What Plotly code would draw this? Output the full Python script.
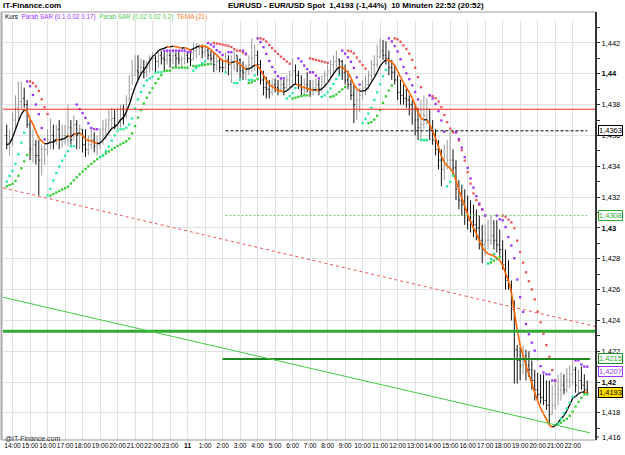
import plotly.graph_objects as go

# ---- data (EURUSD, 10-minute bars, 13:40 day 10 .. 22:50 day 11) ----
closes = [1.4354,1.4357,1.4370,1.4378,1.4382,1.4384,1.4380,1.4367,1.4351,1.4354,
          1.4347,1.4344,1.4351,1.4351,1.4357,1.4360,1.4357,1.4364,1.4357,1.4360,
          1.4360,1.4365,1.4357,1.4367,1.4360,1.4364,1.4354,1.4351,1.4354,1.4357,
          1.4353,1.4354,1.4357,1.4364,1.4367,1.4370,1.4371,1.4367,1.4370,1.4377,
          1.4373,1.4383,1.4390,1.4399,1.4402,1.4401,1.4404,1.4401,1.4404,1.4409,
          1.4410,1.4408,1.4412,1.4410,1.4409,1.4412,1.4409,1.4412,1.4410,1.4409,
          1.4410,1.4412,1.4410,1.4409,1.4415,1.4417,1.4417,1.4414,1.4415,1.4412,
          1.4410,1.4406,1.4408,1.4404,1.4404,1.4409,1.4406,1.4408,1.4412,1.4409,
          1.4402,1.4401,1.4402,1.4406,1.4410,1.4412,1.4406,1.4396,1.4391,1.4390,
          1.4388,1.4393,1.4391,1.4390,1.4393,1.4391,1.4396,1.4399,1.4402,1.4399,
          1.4393,1.4390,1.4393,1.4390,1.4390,1.4391,1.4393,1.4390,1.4395,1.4399,
          1.4402,1.4406,1.4408,1.4409,1.4408,1.4401,1.4396,1.4393,1.4386,1.4380,
          1.4383,1.4386,1.4391,1.4393,1.4399,1.4406,1.4406,1.4411,1.4415,1.4412,
          1.4410,1.4404,1.4401,1.4396,1.4388,1.4386,1.4384,1.4383,1.4380,1.4377,
          1.4370,1.4365,1.4367,1.4373,1.4377,1.4364,1.4357,1.4351,1.4344,1.4338,
          1.4341,1.4344,1.4344,1.4339,1.4325,1.4318,1.4315,1.4312,1.4305,1.4304,
          1.4302,1.4300,1.4292,1.4289,1.4292,1.4292,1.4295,1.4292,1.4289,1.4286,
          1.4276,1.4266,1.4263,1.4247,1.4221,1.4214,1.4211,1.4217,1.4211,1.4208,
          1.4201,1.4195,1.4192,1.4190,1.4188,1.4185,1.4179,1.4185,1.4192,1.4195,
          1.4198,1.4195,1.4201,1.4205,1.4208,1.4198,1.4201,1.4198,1.4195,1.4193]

highs = [1.4367,1.4364,1.4375,1.4386,1.4395,1.4395,1.4391,1.4383,1.4370,1.4364,
         1.4357,1.4357,1.4354,1.4354,1.4364,1.4371,1.4367,1.4367,1.4370,1.4367,
         1.4367,1.4380,1.4370,1.4373,1.4370,1.4367,1.4364,1.4364,1.4360,1.4364,
         1.4362,1.4360,1.4365,1.4370,1.4371,1.4377,1.4378,1.4377,1.4378,1.4380,
         1.4380,1.4386,1.4399,1.4409,1.4412,1.4412,1.4410,1.4409,1.4408,1.4412,
         1.4414,1.4412,1.4414,1.4415,1.4414,1.4415,1.4414,1.4415,1.4414,1.4415,
         1.4412,1.4414,1.4414,1.4414,1.4420,1.4420,1.4419,1.4419,1.4419,1.4417,
         1.4415,1.4414,1.4412,1.4410,1.4409,1.4414,1.4412,1.4412,1.4415,1.4412,
         1.4410,1.4408,1.4406,1.4412,1.4423,1.4419,1.4415,1.4409,1.4402,1.4398,
         1.4396,1.4397,1.4397,1.4396,1.4397,1.4396,1.4399,1.4402,1.4410,1.4406,
         1.4402,1.4399,1.4397,1.4401,1.4396,1.4396,1.4397,1.4396,1.4399,1.4402,
         1.4406,1.4409,1.4412,1.4415,1.4410,1.4409,1.4406,1.4402,1.4396,1.4393,
         1.4390,1.4391,1.4396,1.4399,1.4402,1.4409,1.4412,1.4419,1.4423,1.4422,
         1.4421,1.4415,1.4409,1.4406,1.4399,1.4396,1.4393,1.4391,1.4386,1.4383,
         1.4380,1.4378,1.4383,1.4386,1.4384,1.4377,1.4370,1.4364,1.4357,1.4351,
         1.4354,1.4357,1.4362,1.4351,1.4344,1.4331,1.4328,1.4325,1.4321,1.4318,
         1.4315,1.4312,1.4308,1.4302,1.4302,1.4305,1.4308,1.4305,1.4305,1.4299,
         1.4292,1.4286,1.4279,1.4266,1.4253,1.4224,1.4223,1.4224,1.4221,1.4220,
         1.4214,1.4208,1.4206,1.4205,1.4205,1.4201,1.4201,1.4198,1.4201,1.4205,
         1.4206,1.4205,1.4209,1.4211,1.4214,1.4210,1.4208,1.4210,1.4205,1.4201]

lows = [1.4351,1.4347,1.4353,1.4364,1.4370,1.4377,1.4378,1.4365,1.4344,1.4342,
        1.4341,1.4321,1.4334,1.4341,1.4347,1.4351,1.4351,1.4354,1.4351,1.4352,
        1.4354,1.4353,1.4354,1.4357,1.4351,1.4351,1.4349,1.4346,1.4347,1.4351,
        1.4349,1.4347,1.4351,1.4354,1.4357,1.4360,1.4364,1.4364,1.4364,1.4365,
        1.4367,1.4371,1.4383,1.4393,1.4399,1.4396,1.4399,1.4397,1.4398,1.4401,
        1.4402,1.4401,1.4404,1.4406,1.4402,1.4406,1.4404,1.4406,1.4404,1.4406,
        1.4404,1.4406,1.4407,1.4405,1.4409,1.4410,1.4412,1.4410,1.4411,1.4409,
        1.4408,1.4401,1.4402,1.4401,1.4401,1.4402,1.4399,1.4394,1.4402,1.4401,
        1.4397,1.4396,1.4396,1.4399,1.4401,1.4402,1.4399,1.4393,1.4386,1.4384,
        1.4384,1.4386,1.4388,1.4386,1.4388,1.4386,1.4390,1.4391,1.4391,1.4393,
        1.4390,1.4386,1.4386,1.4388,1.4385,1.4386,1.4388,1.4386,1.4388,1.4391,
        1.4395,1.4397,1.4399,1.4402,1.4399,1.4396,1.4393,1.4390,1.4383,1.4368,
        1.4370,1.4375,1.4383,1.4386,1.4390,1.4396,1.4399,1.4404,1.4410,1.4409,
        1.4406,1.4399,1.4396,1.4393,1.4383,1.4380,1.4380,1.4378,1.4373,1.4367,
        1.4360,1.4357,1.4357,1.4364,1.4367,1.4357,1.4354,1.4347,1.4338,1.4327,
        1.4331,1.4338,1.4338,1.4334,1.4318,1.4312,1.4308,1.4302,1.4299,1.4297,
        1.4294,1.4292,1.4286,1.4277,1.4282,1.4286,1.4289,1.4286,1.4284,1.4282,
        1.4273,1.4260,1.4260,1.4240,1.4199,1.4199,1.4201,1.4205,1.4201,1.4203,
        1.4195,1.4188,1.4188,1.4186,1.4185,1.4182,1.4173,1.4179,1.4182,1.4185,
        1.4188,1.4192,1.4193,1.4196,1.4198,1.4193,1.4192,1.4195,1.4192,1.4192]

first_open = 1.4360
opens = [first_open] + closes[:-1]

hour_ticks = [2, 8, 14, 20, 26, 32, 38, 44, 50, 56, 62, 68, 74, 80, 86, 92, 98, 104, 110, 116,
              122, 128, 134, 140, 146, 152, 158, 164, 170, 176, 182, 188, 194]
hour_labels = ["14:00", "15:00", "16:00", "17:00", "18:00", "19:00", "20:00", "21:00", "22:00", "23:00",
               "<b>11</b>", "1:00", "2:00", "3:00", "4:00", "5:00", "6:00", "7:00", "8:00", "9:00",
               "10:00", "11:00", "12:00", "13:00", "14:00", "15:00", "16:00", "17:00", "18:00",
               "19:00", "20:00", "21:00", "22:00"]

price_ticks = [1.418, 1.42, 1.422, 1.424, 1.426, 1.428, 1.43, 1.432, 1.434, 1.436, 1.438, 1.44, 1.442]
price_labels = ["1,418", "<b>1,42</b>", "1,422", "1,424", "1,426", "1,428", "<b>1,43</b>",
                "1,432", "1,434", "1,436", "1,438", "<b>1,44</b>", "1,442"]
bottom_price_label = "1,416"

# horizontal levels / trend lines (price values)
red_level = 1.4377
black_dash_level = 1.4363
green_dot_level = 1.4308
thick_green_level = 1.4233
dark_green_level = 1.4215
level_start_bar = 75
red_trend = (1.4326, 1.4236)      # start / end price of red dotted trend line
green_trend = (1.4255, 1.4167)    # start / end price of thin green trend line

price_boxes = [("1,4363", 1.4363, "#000000", "#ffffff", "#000000"),
               ("1,4308", 1.4308, "#33aa33", "#ffffff", "#33aa33"),
               ("1,4215", 1.4215, "#228822", "#ffffff", "#33aa33"),
               ("1,4207", 1.4207, "#9933ff", "#ffffff", "#9933ff"),
               ("1,4193", 1.4193, "#000000", "#ffdd00", "#000000")]

# ---- indicators as labelled on the chart ----
def ema(vals, period):
    a = 2.0 / (period + 1)
    out = [vals[0]]
    for v in vals[1:]:
        out.append(out[-1] + a * (v - out[-1]))
    return out

def tema(vals, period):
    e1 = ema(vals, period)
    e2 = ema(e1, period)
    e3 = ema(e2, period)
    return [3 * a - 3 * b + c for a, b, c in zip(e1, e2, e3)]

def psar(high, low, af0, step, afmax, sar0):
    n = len(high)
    up = True
    s = sar0
    ep = high[0]
    af = af0
    sars, ups = [s], [up]
    for i in range(1, n):
        s = s + af * (ep - s)
        if up:
            s = min(s, low[i - 1], low[max(i - 2, 0)])
            if low[i] < s:
                up = False; s = ep; ep = low[i]; af = af0
            elif high[i] > ep:
                ep = high[i]; af = min(af + step, afmax)
        else:
            s = max(s, high[i - 1], high[max(i - 2, 0)])
            if high[i] > s:
                up = True; s = ep; ep = high[i]; af = af0
            elif low[i] < ep:
                ep = low[i]; af = min(af + step, afmax)
        sars.append(s); ups.append(up)
    return sars, ups

n = len(closes)
xs = list(range(n))
tm = tema(closes, 21)
fast_sar, fast_up = psar(highs, lows, 0.1, 0.02, 0.17, 1.4330)
slow_sar, slow_up = psar(highs, lows, 0.02, 0.02, 0.2, 1.4327)

FONT = "Liberation Sans Narrow, Liberation Sans, Arial, sans-serif"

fig = go.Figure()

fig.add_trace(go.Ohlc(x=xs, open=opens, high=highs, low=lows, close=closes,
                      increasing=dict(line=dict(color="#9a9a9a", width=1)),
                      decreasing=dict(line=dict(color="#111111", width=1)),
                      tickwidth=0.35, showlegend=False, hoverinfo="skip"))

# TEMA coloured by direction
ox, oy, bx, by = [], [], [], []
for i in range(1, n):
    if tm[i] >= tm[i - 1]:
        bx += [i - 1, i, None]; by += [tm[i - 1], tm[i], None]
    else:
        ox += [i - 1, i, None]; oy += [tm[i - 1], tm[i], None]
fig.add_trace(go.Scatter(x=ox, y=oy, mode="lines", line=dict(color="#ff6600", width=1.6),
                         showlegend=False, hoverinfo="skip"))
fig.add_trace(go.Scatter(x=bx, y=by, mode="lines", line=dict(color="#000000", width=1.3),
                         showlegend=False, hoverinfo="skip"))

def dots(sar, ups, cup, cdn):
    fig.add_trace(go.Scatter(x=xs, y=sar, mode="markers",
                             marker=dict(symbol="square", size=2.3,
                                         color=[cup if u else cdn for u in ups], line=dict(width=0)),
                             showlegend=False, hoverinfo="skip"))

dots(slow_sar, slow_up, "#33cc33", "#ee5555")
dots(fast_sar, fast_up, "#22ee99", "#9933ff")

shapes = []
def hline(y, x0, x1, color, width, dash="solid", xref="x"):
    shapes.append(dict(type="line", xref=xref, yref="y", x0=x0, x1=x1, y0=y, y1=y,
                       line=dict(color=color, width=width, dash=dash)))

hline(red_level, 0, 1, "#ff2222", 1, xref="paper")
hline(thick_green_level, 0, 1, "#33aa33", 3, xref="paper")
hline(black_dash_level, level_start_bar, n - 1, "#000000", 1, "3px,2px")
hline(green_dot_level, level_start_bar, n - 1, "#66cc66", 1, "2px,2px")
hline(dark_green_level, level_start_bar - 1, n, "#228822", 2)
shapes.append(dict(type="line", xref="paper", yref="y", x0=0, x1=1, y0=red_trend[0], y1=red_trend[1],
                   line=dict(color="#ee5555", width=1, dash="dot")))
shapes.append(dict(type="line", xref="paper", yref="y", x0=0, x1=0.99, y0=green_trend[0], y1=green_trend[1],
                   line=dict(color="#44cc44", width=1)))
# day separator
shapes.append(dict(type="line", xref="x", yref="paper", x0=62, x1=62, y0=0, y1=1,
                   line=dict(color="#a0a0a0", width=1), layer="below"))

W, H = 625, 455
L, R, T, B = 3, 29, 20, 15
pw, ph = W - L - R, H - T - B
def px(x):
    return (x - L) / pw
def py(y):
    return (H - B - y) / ph

# frame
shapes.append(dict(type="line", xref="paper", yref="paper", x0=px(2), x1=1, y0=py(12), y1=py(12),
                   line=dict(color="#999999", width=1)))
shapes.append(dict(type="line", xref="paper", yref="paper", x0=px(1.5), x1=px(1.5), y0=0, y1=py(12),
                   line=dict(color="#aaaaaa", width=2)))
shapes.append(dict(type="line", xref="paper", yref="paper", x0=1, x1=1, y0=0, y1=py(12),
                   line=dict(color="#333333", width=2)))
shapes.append(dict(type="line", xref="paper", yref="paper", x0=px(2), x1=1, y0=0, y1=0,
                   line=dict(color="#999999", width=1)))
# bottom tick for the 1,416 label
shapes.append(dict(type="line", xref="paper", yref="paper", x0=1, x1=px(599), y0=py(437), y1=py(437),
                   line=dict(color="#333333", width=1)))

ann = []
def text(x, y, s, size, color="#000000", bold=False, anchor="left"):
    ann.append(dict(xref="paper", yref="paper", x=px(x), y=py(y), text=("<b>%s</b>" % s) if bold else s,
                    showarrow=False, xanchor=anchor, yanchor="middle",
                    font=dict(size=size, color=color, family=FONT)))

text(1, 6, "IT-Finance.com", 8, bold=True)
text(226, 6, "EURUSD - EUR/USD Spot&nbsp;&nbsp;1,4193 (-1,44%)&nbsp;&nbsp;10 Minuten&nbsp;22:52 (20:52)",
     8, bold=True)
text(3, 16.5, "Kurs&nbsp;&nbsp;<span style='color:#9933ff'>Parab SAR (0.1 0.02 0.17)</span>&nbsp;&nbsp;"
              "<span style='color:#55cc55'>Parab SAR (0.02 0.02 0.2)</span>&nbsp;&nbsp;"
              "<span style='color:#ff7722'>TEMA (21)</span>", 6.3, "#000000")
text(3, 438, "@IT-Finance.com", 7, "#333333")
text(600, 437, bottom_price_label, 7.5, "#000000")

for label, val, border, bg, fc in price_boxes:
    ann.append(dict(xref="paper", yref="y", x=px(598), y=val, text=label, showarrow=False,
                    xanchor="left", yanchor="middle", bgcolor=bg, bordercolor=border, borderwidth=1,
                    borderpad=0, font=dict(size=7.5, color=fc, family=FONT)))

fig.update_layout(
    width=W, height=H, margin=dict(l=L, r=R, t=T, b=B, autoexpand=False),
    paper_bgcolor="#ffffff", plot_bgcolor="#ffffff", showlegend=False,
    shapes=shapes, annotations=ann,
    font=dict(family=FONT, size=7, color="#000000"),
    xaxis=dict(range=[-1.27, 202.0], tickmode="array", tickvals=hour_ticks, ticktext=hour_labels,
               showgrid=True, gridcolor="#e2e2e2", gridwidth=1, zeroline=False, ticks="",
               tickangle=0, tickfont=dict(size=6.6), rangeslider=dict(visible=False), showline=False,
               automargin=False, fixedrange=True),
    yaxis=dict(side="right", range=[1.41624, 1.44349], tickmode="array", tickvals=price_ticks,
               ticktext=price_labels, showgrid=True, gridcolor="#e2e2e2", zeroline=False,
               ticks="outside", ticklen=3, tickcolor="#333333", tickfont=dict(size=7.5),
               minor=dict(tickmode="linear", tick0=1.416, dtick=0.001, ticks="outside", ticklen=3,
                          tickcolor="#333333", showgrid=False),
               showline=False, automargin=False, fixedrange=True),
)

fig.write_html("out.html")
